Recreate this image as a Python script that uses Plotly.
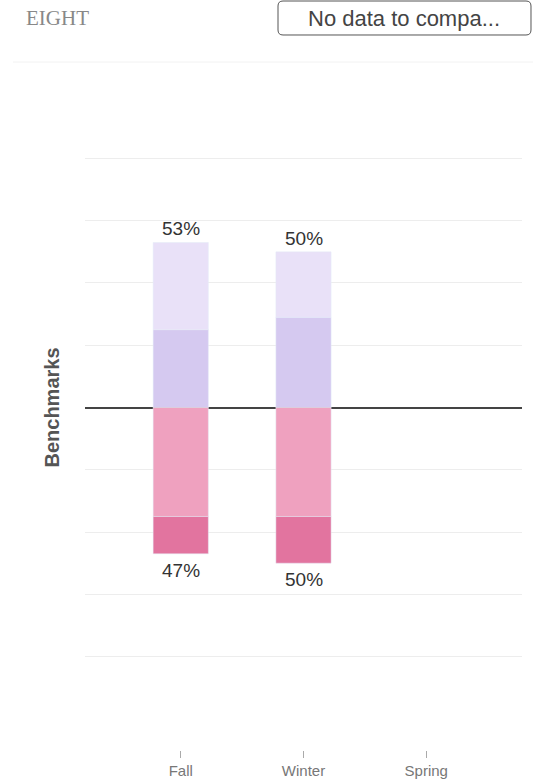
import plotly.graph_objects as go

seasons = ["Fall", "Winter", "Spring"]
above_mid = [25, 29, None]     # mid lavender, just above benchmark line
above_high = [28, 21, None]    # light lavender, top segment
below_mid = [35, 35, None]     # pink, just below benchmark line
below_low = [12, 15, None]     # dark pink, bottom segment
grid_vals = [-80, -60, -40, -20, 20, 40, 60, 80]

colors = {
    "above_high": "#E9E1F8",
    "above_mid": "#D5C9F0",
    "below_mid": "#EFA1BF",
    "below_low": "#E2749F",
}

W, H = 533, 781
L, R, T, B = 85, 11, 65, 31
PW, PH = W - L - R, H - T - B

def px_x(p):
    return (p - L) / PW

def px_y(p):
    return (H - B - p) / PH

SANS = "Liberation Sans, Arial, sans-serif"

fig = go.Figure()
fig.add_bar(x=seasons, y=above_mid, marker_color=colors["above_mid"], width=0.45, hoverinfo="skip")
fig.add_bar(x=seasons, y=above_high, marker_color=colors["above_high"], width=0.45, hoverinfo="skip")
fig.add_bar(x=seasons, y=[-v if v is not None else None for v in below_mid],
            marker_color=colors["below_mid"], width=0.45, hoverinfo="skip")
fig.add_bar(x=seasons, y=[-v if v is not None else None for v in below_low],
            marker_color=colors["below_low"], width=0.45, hoverinfo="skip")

annotations = []
for s, a1, a2, b1, b2 in zip(seasons, above_mid, above_high, below_mid, below_low):
    if a1 is None:
        continue
    top = a1 + a2
    bot = b1 + b2
    annotations.append(dict(x=s, y=top, xref="x", yref="y", text=f"{top}%", showarrow=False,
                            yanchor="bottom", yshift=1,
                            font=dict(family=SANS, size=19, color="#333")))
    annotations.append(dict(x=s, y=-bot, xref="x", yref="y", text=f"{bot}%", showarrow=False,
                            yanchor="top", yshift=-4,
                            font=dict(family=SANS, size=19, color="#333")))

annotations.append(dict(x=px_x(51), y=0, xref="paper", yref="y", text="<b>Benchmarks</b>",
                        showarrow=False, textangle=-90, xanchor="center", yanchor="middle",
                        font=dict(family=SANS, size=20, color="#555")))
annotations.append(dict(x=px_x(24), y=px_y(18), xref="paper", yref="paper", text="EIGHT",
                        showarrow=False, xanchor="left", yanchor="middle",
                        font=dict(family="Liberation Serif, Times New Roman, serif", size=21, color="#888")))
annotations.append(dict(x=px_x(404), y=px_y(18), xref="paper", yref="paper", text="No data to compa...",
                        showarrow=False, xanchor="center", yanchor="middle",
                        font=dict(family=SANS, size=22, color="#444")))

# rounded box around dropdown
x0, x1, y0, y1, r = 278, 531, 1, 35, 5
def P(px, py):
    return f"{px_x(px):.5f},{px_y(py):.5f}"
path = (f"M {P(x0 + r, y0)} L {P(x1 - r, y0)} Q {P(x1, y0)} {P(x1, y0 + r)} "
        f"L {P(x1, y1 - r)} Q {P(x1, y1)} {P(x1 - r, y1)} L {P(x0 + r, y1)} "
        f"Q {P(x0, y1)} {P(x0, y1 - r)} L {P(x0, y0 + r)} Q {P(x0, y0)} {P(x0 + r, y0)} Z")
shapes = [
    dict(type="path", xref="paper", yref="paper", path=path,
         line=dict(color="#555", width=1)),
    dict(type="line", xref="paper", yref="paper", x0=px_x(13), x1=px_x(533), y0=px_y(62), y1=px_y(62),
         line=dict(color="#f2f2f2", width=1)),
]

fig.update_layout(
    width=W, height=H,
    margin=dict(l=L, r=R, t=T, b=B, pad=0, autoexpand=False),
    barmode="relative",
    showlegend=False,
    plot_bgcolor="white", paper_bgcolor="white",
    annotations=annotations,
    shapes=shapes,
    xaxis=dict(range=[-0.78, 2.78], showgrid=False, zeroline=False, showline=False,
               automargin=False,
               ticks="outside", ticklen=7, tickcolor="#aaa", tickwidth=1,
               tickfont=dict(family=SANS, size=15, color="#777"),
               fixedrange=True),
    yaxis=dict(range=[-110, 110], tickvals=grid_vals, showticklabels=False,
               automargin=False,
               showgrid=True, gridcolor="#ededed", gridwidth=1,
               zeroline=True, zerolinecolor="#444", zerolinewidth=1.5,
               showline=False, fixedrange=True),
)

post = ("document.documentElement.style.margin='0';"
        "document.documentElement.style.overflow='hidden';"
        "document.body.style.margin='0';document.body.style.padding='0';"
        "document.body.style.overflow='hidden';"
        "var gd=document.querySelector('.plotly-graph-div');"
        "gd.style.position='absolute';gd.style.left='0px';gd.style.top='0px';")

fig.write_html("out.html", config={"displayModeBar": False}, post_script=post)
